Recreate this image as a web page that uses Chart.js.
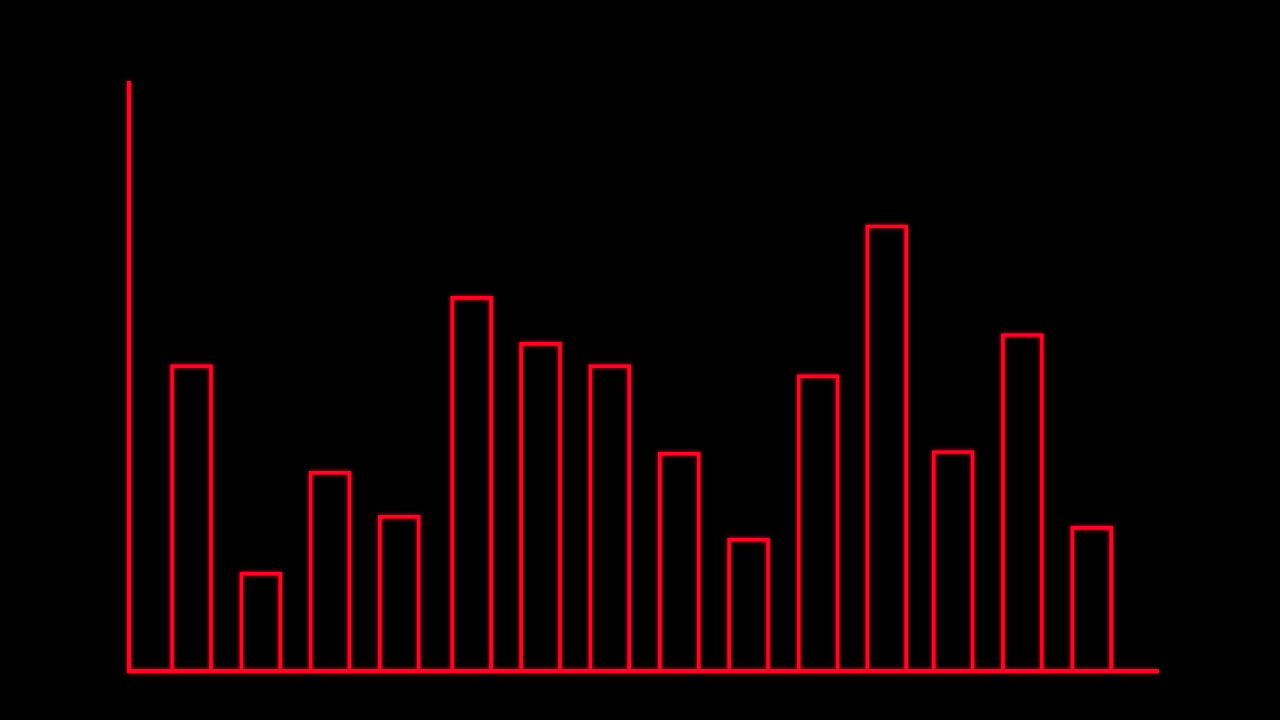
<!DOCTYPE html>
<html>
<head>
<meta charset="utf-8">
<script src="https://cdn.jsdelivr.net/npm/chart.js@4"></script>
<style>
  html, body { margin: 0; padding: 0; background: #000; }
  #wrap { width: 1280px; height: 720px; }
  canvas { filter: drop-shadow(0 0 2px rgba(255, 10, 40, 0.9)); }
</style>
</head>
<body>
<div id="wrap"><canvas id="grafico"></canvas></div>
<script>
// posicoes das barras no eixo x (espacamento nao e perfeito) e alturas
const posicoesX = [1, 2, 3, 4, 5.045, 6.04, 7.04, 8.045, 9.045, 10.05, 11.04, 12, 13, 14];
const valores = [52.1, 16.8, 34.0, 26.5, 63.7, 55.9, 52.1, 37.2, 22.6, 50.4, 75.9, 37.5, 57.4, 24.6];
const yMin = 0;
const yMax = 100;

const vermelho = '#ff0626';

let pontos = [];
for (let i = 0; i < posicoesX.length; i++) {
    pontos.push({ x: posicoesX[i], y: valores[i] });
}

const config = {
    type: 'bar',
    data: {
        datasets: [{
            data: pontos,
            backgroundColor: 'rgba(0,0,0,0)',
            borderColor: vermelho,
            borderWidth: 3,
            barThickness: 42
        }]
    },
    options: {
        responsive: true,
        maintainAspectRatio: false,
        animation: false,
        layout: { padding: { left: 129, right: 122, top: 83, bottom: 49 } },
        plugins: {
            legend: { display: false },
            tooltip: { enabled: false }
        },
        scales: {
            x: {
                type: 'linear',
                offset: false,
                min: 0.097,
                max: 14.958,
                grid: { display: false },
                ticks: { display: false },
                border: { display: true, color: vermelho, width: 4 },
                afterFit: function (scale) { scale.height = 0; }
            },
            y: {
                min: yMin,
                max: yMax,
                grid: { display: false },
                ticks: { display: false },
                border: { display: true, color: vermelho, width: 4 },
                afterFit: function (scale) { scale.width = 0; }
            }
        }
    }
};

var ctx = document.getElementById("grafico").getContext("2d");
let myChart = new Chart(ctx, config);
</script>
</body>
</html>
